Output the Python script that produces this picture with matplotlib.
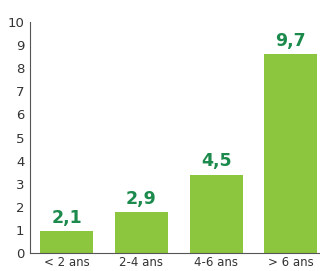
import numpy as np
import matplotlib
matplotlib.use('Agg')
import matplotlib.pyplot as plt

# données
categories = ['< 2 ans', '2-4 ans', '4-6 ans', '> 6 ans']
hauteurs = [0.95, 1.77, 3.38, 8.6]       # hauteur des barres telle que dessinée
etiquettes = ['2,1', '2,9', '4,5', '9,7']  # valeurs affichées
yticks = list(range(0, 11))

plt.rcParams['font.family'] = ['DejaVu Sans']

fig = plt.figure(figsize=(3.2, 2.71), dpi=100)
ax = fig.add_axes([0.094, 0.066, 0.906, 0.853])

x = np.arange(len(categories))
bars = ax.bar(x, hauteurs, width=0.71, color='#8cc63e')

for b, lab in zip(bars, etiquettes):
    ax.text(b.get_x() + b.get_width() / 2, b.get_height() + 0.2, lab,
            ha='center', va='bottom', color='#1b8a4c',
            fontsize=12.5, fontweight='bold')

ax.set_xlim(-0.49, 3.39)
ax.set_ylim(0, 10)
ax.set_xticks(x)
ax.set_xticklabels(categories, fontsize=8.5, color='#333333')
ax.set_yticks(yticks)
ax.set_yticklabels([str(v) for v in yticks], fontsize=9.5, color='#333333')
ax.tick_params(axis='x', length=0, pad=2)
ax.tick_params(axis='y', length=0, pad=4)

for s in ['top', 'right']:
    ax.spines[s].set_visible(False)
for s in ['left', 'bottom']:
    ax.spines[s].set_color('#555555')
    ax.spines[s].set_linewidth(0.8)

fig.savefig('out.png', dpi=100)
